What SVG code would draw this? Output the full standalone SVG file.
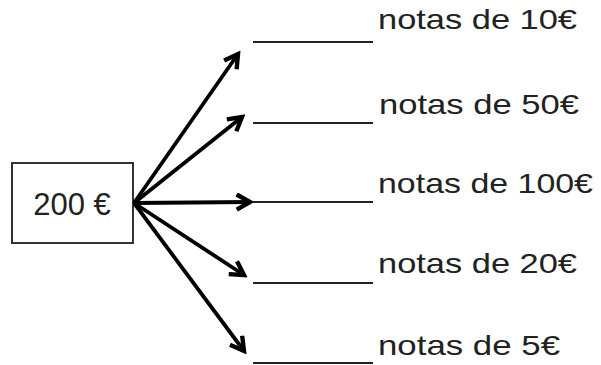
<svg xmlns="http://www.w3.org/2000/svg" width="601" height="365" viewBox="0 0 601 365">
<style>
.lbl{font-family:"Liberation Sans",Arial,sans-serif;font-size:28px;fill:#222}
.blank{stroke:#222;stroke-width:2}
.arr{stroke:#000;stroke-width:3.8;fill:none;marker-end:url(#head)}
</style>
<defs>
<marker id="head" viewBox="0 0 10 10" refX="8" refY="5" markerWidth="5" markerHeight="5" orient="auto" markerUnits="strokeWidth">
<path d="M1,1 L8,5 L1,9" fill="none" stroke="#000" stroke-width="2.3" stroke-linejoin="miter"/>
</marker>
</defs>
<rect width="601" height="365" fill="#fff"/>
<g id="source">
<rect x="12" y="163" width="121" height="80" fill="#fff" stroke="#333" stroke-width="2"/>
<text x="72" y="215" text-anchor="middle" style="font-family:'Liberation Sans',Arial,sans-serif;font-size:31px;fill:#222">200 €</text>
</g>
<g id="connectors">
<line class="arr" x1="134" y1="203" x2="238" y2="54"/>
<line class="arr" x1="134" y1="203" x2="242" y2="117"/>
<line class="arr" x1="134" y1="203" x2="250" y2="202"/>
<line class="arr" x1="134" y1="203" x2="244" y2="275"/>
<line class="arr" x1="134" y1="203" x2="244" y2="351"/>
</g>
<g id="n10">
<line class="blank" x1="253" y1="42" x2="373" y2="42"/>
<text class="lbl" x="378" y="29" textLength="199" lengthAdjust="spacingAndGlyphs">notas de 10€</text>
</g>
<g id="n50">
<line class="blank" x1="253" y1="123" x2="373" y2="123"/>
<text class="lbl" x="379" y="114" textLength="200" lengthAdjust="spacingAndGlyphs">notas de 50€</text>
</g>
<g id="n100">
<line class="blank" x1="253" y1="202" x2="373" y2="202"/>
<text class="lbl" x="378" y="193" textLength="215" lengthAdjust="spacingAndGlyphs">notas de 100€</text>
</g>
<g id="n20">
<line class="blank" x1="253" y1="283" x2="373" y2="283"/>
<text class="lbl" x="378" y="273" textLength="199" lengthAdjust="spacingAndGlyphs">notas de 20€</text>
</g>
<g id="n5">
<line class="blank" x1="253" y1="363" x2="373" y2="363"/>
<text class="lbl" x="378" y="355" textLength="182" lengthAdjust="spacingAndGlyphs">notas de 5€</text>
</g>
</svg>
